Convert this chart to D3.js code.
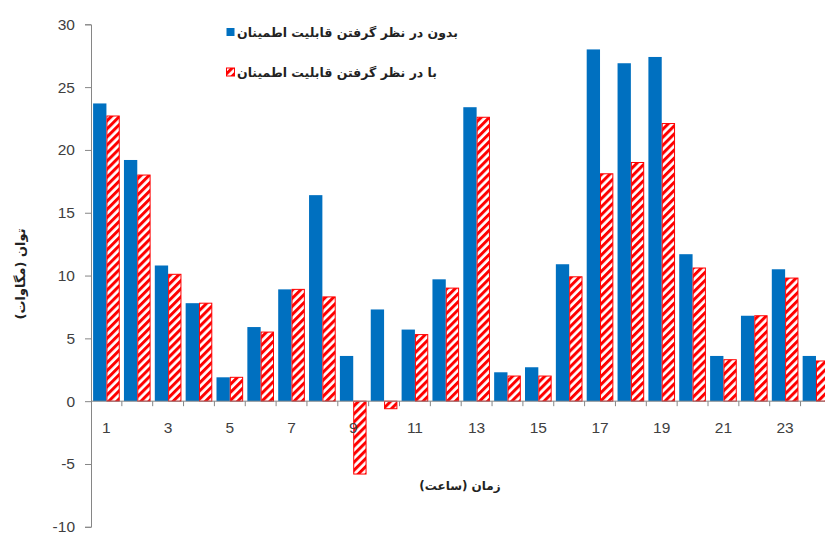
<!DOCTYPE html>
<html>
<head>
<meta charset="utf-8">
<script src="https://cdn.jsdelivr.net/npm/d3@7"></script>
<style>
  html, body { margin: 0; padding: 0; background: #fff; }
  svg { display: block; }
</style>
</head>
<body>
<svg id="chart" width="825" height="534"></svg>
<script>
const hours = d3.range(1, 25);
const withoutReliability = [23.7, 19.2, 10.8, 7.8, 1.9, 5.9, 8.9, 16.4, 3.6, 7.3, 5.7, 9.7, 23.4, 2.3, 2.7, 10.9, 28.0, 26.9, 27.4, 11.7, 3.6, 6.8, 10.5, 3.6];
const withReliability = [22.7, 18.0, 10.1, 7.8, 1.9, 5.5, 8.9, 8.3, -5.8, -0.6, 5.3, 9.0, 22.6, 2.0, 2.0, 9.9, 18.1, 19.0, 22.1, 10.6, 3.3, 6.8, 9.8, 3.2];
const yTicks = [-10, -5, 0, 5, 10, 15, 20, 25, 30];
const xTickLabels = [1, 3, 5, 7, 9, 11, 13, 15, 17, 19, 21, 23];
const seriesNames = ["بدون در نظر گرفتن قابلیت اطمینان", "با در نظر گرفتن قابلیت اطمینان"];
const yTitle = "توان (مگاوات)";
const xTitle = "زمان (ساعت)";

const svg = d3.select("#chart");
const blue = "#0070C0", red = "#FF0000", axisColor = "#868686", textColor = "#404040";

const defs = svg.append("defs");
const pat = defs.append("pattern").attr("id", "hatch")
  .attr("patternUnits", "userSpaceOnUse").attr("width", 5.7).attr("height", 5.7)
  .attr("patternTransform", "rotate(45)");
pat.append("rect").attr("width", 5.7).attr("height", 5.7).attr("fill", "#fff");
pat.append("rect").attr("width", 3).attr("height", 5.7).attr("fill", red);

const x0 = 91, xEnd = 91 + 24 * 30.85;
const x = d3.scaleBand().domain(hours).range([x0, xEnd]).paddingInner(0).paddingOuter(0);
const x1 = d3.scaleBand().domain([0, 1]).range([2.1, x.bandwidth() - 2.1]).padding(0);
const y = d3.scaleLinear().domain([-10, 30]).range([526.8, 24.3]);

// bars
const g = svg.append("g");
g.selectAll("rect.b").data(hours).join("rect").attr("class", "b")
  .attr("x", d => x(d) + x1(0)).attr("width", x1.bandwidth())
  .attr("y", (d, i) => y(Math.max(0, withoutReliability[i])))
  .attr("height", (d, i) => Math.abs(y(withoutReliability[i]) - y(0)))
  .attr("fill", blue);
g.selectAll("rect.r").data(hours).join("rect").attr("class", "r")
  .attr("x", d => x(d) + x1(1) + 0.5).attr("width", x1.bandwidth() - 1)
  .attr("y", (d, i) => y(Math.max(0, withReliability[i])))
  .attr("height", (d, i) => Math.abs(y(withReliability[i]) - y(0)))
  .attr("fill", "url(#hatch)").attr("stroke", red).attr("stroke-width", 1);

// y axis
const yAxis = d3.axisLeft(y).tickValues(yTicks).tickSize(6).tickPadding(10).tickFormat(d => String(d));
const ya = svg.append("g").attr("transform", `translate(${x0},0)`).call(yAxis);
ya.select(".domain").attr("stroke", axisColor);
ya.selectAll(".tick line").attr("stroke", axisColor);
ya.selectAll(".tick text").attr("fill", textColor).style("font-family", "Liberation Sans, Arial, sans-serif").style("font-size", "15.5px");

// x axis at zero
const xa = svg.append("g").attr("transform", `translate(0,${y(0)})`);
xa.append("line").attr("x1", x0).attr("x2", xEnd).attr("stroke", axisColor);
xa.selectAll("line.t").data(hours).join("line").attr("class", "t")
  .attr("x1", d => x(d) + x.bandwidth()).attr("x2", d => x(d) + x.bandwidth())
  .attr("y1", 0).attr("y2", 5).attr("stroke", axisColor);
xa.selectAll("text").data(xTickLabels).join("text")
  .attr("x", d => x(d) + x.bandwidth() / 2).attr("y", 32)
  .attr("text-anchor", "middle").attr("fill", textColor)
  .style("font-family", "Liberation Sans, Arial, sans-serif").style("font-size", "15.5px")
  .text(d => d);

// titles
const arFont = "DejaVu Sans, sans-serif";
svg.append("text").attr("transform", "translate(25,274) rotate(-90)")
  .attr("text-anchor", "middle").style("direction", "rtl").style("unicode-bidi", "embed")
  .style("font-family", arFont).style("font-weight", "bold").style("font-size", "13px")
  .attr("fill", "#222").text(yTitle);
svg.append("text").attr("x", 460).attr("y", 490)
  .attr("text-anchor", "middle").style("direction", "rtl").style("unicode-bidi", "embed")
  .style("font-family", arFont).style("font-weight", "bold").style("font-size", "12px")
  .attr("fill", "#222").text(xTitle);

// legend
const legend = svg.append("g");
const legendRows = [{ name: seriesNames[0], fill: blue, stroke: "none", y: 33 }, { name: seriesNames[1], fill: "url(#hatch)", stroke: red, y: 73 }];
legendRows.forEach(r => {
  legend.append("rect").attr("x", 226.5).attr("y", r.y - 5).attr("width", 8).attr("height", 8)
    .attr("fill", r.fill).attr("stroke", r.stroke).attr("stroke-width", 1);
  const t = legend.append("text").attr("y", r.y + 4).attr("text-anchor", "middle")
    .style("direction", "rtl").style("unicode-bidi", "embed")
    .style("font-family", arFont).style("font-weight", "bold").style("font-size", "12.5px")
    .attr("fill", "#222").text(r.name);
  const len = t.node().getComputedTextLength();
  t.attr("x", 237 + len / 2);
});
</script>
</body>
</html>
